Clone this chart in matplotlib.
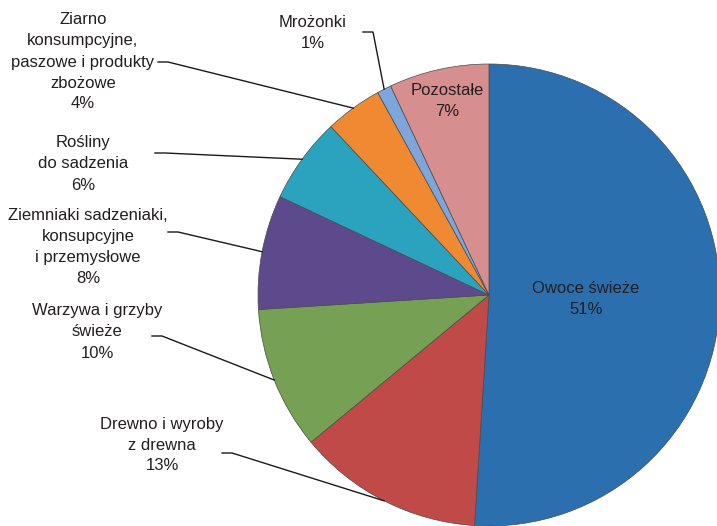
import numpy as np
import matplotlib.pyplot as plt

# dane
kategorie = ['Owoce świeże', 'Drewno i wyroby\nz drewna', 'Warzywa i grzyby\nświeże',
             'Ziemniaki sadzeniaki,\nkonsupcyjne\ni przemysłowe', 'Rośliny\ndo sadzenia',
             'Ziarno\nkonsumpcyjne,\npaszowe i produkty\nzbożowe', 'Mrożonki', 'Pozostałe']
udzialy = [51, 13, 10, 8, 6, 4, 1, 7]
kolory = ['#2b6fae', '#c04a48', '#76a053', '#5d4a8c', '#2ba3bf', '#ef8a33', '#7ea6da', '#d78e8e']

W, H = 717, 526
# pozycje etykiet (piksele, y od gory) i poczatki linii odnosnikow
pozycje = [(586, 299), (162, 445), (97, 332), (88, 247), (83, 164), (83, 62), (313, 33), (447, 101)]
odnosniki = [None, (222, 453), (152, 336), (168, 232), (155, 153), (158, 62), (363, 32), None]

plt.rcParams['font.family'] = ['Liberation Sans', 'DejaVu Sans']
fig = plt.figure(figsize=(W / 100, H / 100), dpi=100)
ax = fig.add_axes([0, 0, 1, 1])

srodek = (489, H - 295)
r = 231
wedges, _ = ax.pie(udzialy, colors=kolory, startangle=90, counterclock=False,
                   center=srodek, radius=r,
                   wedgeprops=dict(edgecolor='#4a4a4a', linewidth=0.5))
ax.set_xlim(0, W)
ax.set_ylim(0, H)
ax.set_aspect('equal')
ax.axis('off')

for w, nazwa, v, (px, py), start in zip(wedges, kategorie, udzialy, pozycje, odnosniki):
    ax.text(px, H - py, f'{nazwa}\n{v}%', ha='center', va='center', fontsize=12,
            color='#231f20', linespacing=1.5)
    if start is not None:
        # linia od etykiety do srodka luku wycinka
        kat = np.deg2rad((w.theta1 + w.theta2) / 2)
        ex = srodek[0] + r * np.cos(kat)
        ey = srodek[1] + r * np.sin(kat)
        sx, sy = start
        ax.plot([sx, sx + 10, ex], [H - sy, H - sy, ey], color='#1a1a1a', lw=1)

fig.savefig('out.png', dpi=100, facecolor='white')
